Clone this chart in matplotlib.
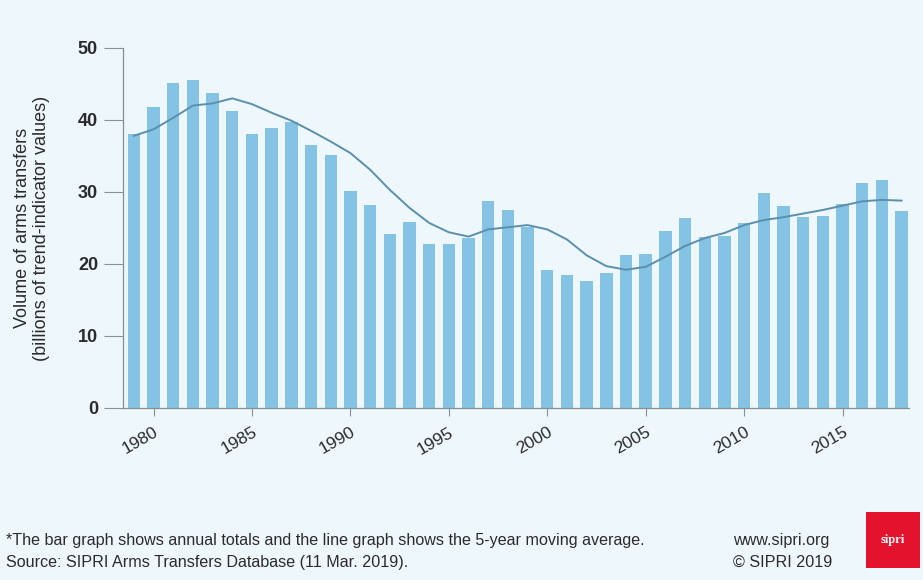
import matplotlib
matplotlib.use("Agg")
import matplotlib.pyplot as plt
from matplotlib.patches import Rectangle

plt.rcParams["font.family"] = ["Liberation Sans", "DejaVu Sans"]
narrow = ["Liberation Sans Narrow", "Liberation Sans", "DejaVu Sans"]

years = list(range(1979, 2019))
annual_totals = [38.0, 41.8, 45.1, 45.5, 43.8, 41.3, 38.0, 38.9, 39.7, 36.5,
                 35.2, 30.2, 28.2, 24.1, 25.8, 22.8, 22.8, 23.6, 28.7, 27.5,
                 25.2, 19.2, 18.5, 17.7, 18.8, 21.2, 21.4, 24.6, 26.4, 23.8,
                 23.9, 25.7, 29.9, 28.1, 26.5, 26.7, 28.3, 31.3, 31.6, 27.4]
moving_avg = [37.8, 38.7, 40.3, 42.0, 42.3, 43.0, 42.2, 41.0, 39.9, 38.5,
              37.0, 35.4, 33.1, 30.3, 27.8, 25.7, 24.4, 23.8, 24.8, 25.1,
              25.4, 24.8, 23.4, 21.2, 19.7, 19.2, 19.6, 21.0, 22.5, 23.6,
              24.3, 25.4, 26.1, 26.5, 27.0, 27.5, 28.1, 28.7, 28.9, 28.8]
tick_years = list(range(1980, 2016, 5))

bg = "#eef7fb"
bar_color = "#84c3e3"
line_color = "#5b8fae"
axis_color = "#8a8f94"
text_color = "#2b2b2b"

fig = plt.figure(figsize=(9.23, 5.8), dpi=100, facecolor=bg)
ax = fig.add_axes([0.1333, 0.2966, 0.851, 0.6207], facecolor=bg)

ax.bar(years, annual_totals, width=0.63, color=bar_color, zorder=2)
ax.plot(years, moving_avg, color=line_color, linewidth=1.4, zorder=3)

ax.set_xlim(1978.45, 2018.35)
ax.set_ylim(0, 50)
ax.set_yticks([0, 10, 20, 30, 40, 50])
ax.set_xticks(tick_years)
ax.set_xticklabels([str(y) for y in tick_years], rotation=30, ha="right",
                   rotation_mode="anchor", fontsize=12.5, color=text_color)
ax.tick_params(axis="y", length=14, width=0.8, color=axis_color, pad=4,
               labelsize=13, labelcolor=text_color)
ax.tick_params(axis="x", length=6, width=0.8, color=axis_color, pad=6)
for lab in ax.get_yticklabels():
    lab.set_fontweight("bold")

for side in ["top", "right"]:
    ax.spines[side].set_visible(False)
for side in ["left", "bottom"]:
    ax.spines[side].set_color(axis_color)
    ax.spines[side].set_linewidth(0.9)

ax.set_ylabel("Volume of arms transfers\n(billions of trend-indicator values)",
              fontsize=13, color=text_color, labelpad=20, linespacing=1.15,
              family=narrow)

foot = dict(fontsize=11.6, color=text_color, va="center", family=narrow)
fig.text(0.006, 0.068, "*The bar graph shows annual totals and the line graph shows the 5-year moving average.", **foot)
fig.text(0.006, 0.030, "Source: SIPRI Arms Transfers Database (11 Mar. 2019).", **foot)
fig.text(0.794, 0.068, "www.sipri.org", **foot)
fig.text(0.794, 0.030, "\u00a9 SIPRI 2019", **foot)

fig.patches.append(Rectangle((0.938, 0.021), 0.059, 0.096, transform=fig.transFigure,
                             facecolor="#e3122d", edgecolor="none"))
fig.text(0.9675, 0.069, "sipri", fontsize=9, color="white", fontweight="bold",
         family=["Liberation Serif", "DejaVu Serif"], ha="center", va="center")

fig.savefig("out.png", dpi=100, facecolor=bg)
